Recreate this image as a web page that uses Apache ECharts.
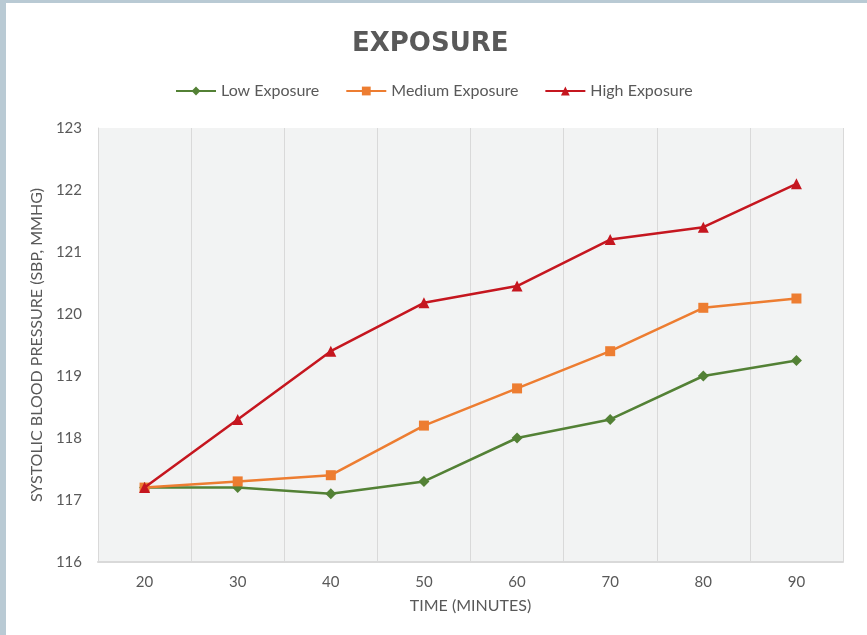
<!DOCTYPE html>
<html>
<head>
<meta charset="utf-8">
<script src="https://cdn.jsdelivr.net/npm/echarts@6/dist/echarts.min.js"></script>
<style>
html,body{margin:0;padding:0;width:867px;height:635px;background:#b9cad4;overflow:hidden;}
#chart{position:absolute;left:6px;top:3px;width:861px;height:632px;background:#ffffff;}
</style>
</head>
<body>
<div id="chart"></div>
<script>
var categories = ['20','30','40','50','60','70','80','90'];
var lowExposure = [117.2, 117.2, 117.1, 117.3, 118.0, 118.3, 119.0, 119.25];
var mediumExposure = [117.2, 117.3, 117.4, 118.2, 118.8, 119.4, 120.1, 120.25];
var highExposure = [117.2, 118.3, 119.4, 120.18, 120.45, 121.2, 121.4, 122.1];
var seriesNames = ['Low Exposure','Medium Exposure','High Exposure'];
var titleText = 'EXPOSURE';
var xAxisName = 'TIME (MINUTES)';
var yAxisName = 'SYSTOLIC BLOOD PRESSURE (SBP, MMHG)';

var chart = echarts.init(document.getElementById('chart'));
var font = 'Lato, "Open Sans", sans-serif';
chart.setOption({
  animation: false,
  backgroundColor: '#ffffff',
  title: {
    text: titleText,
    left: 346,
    top: 28,
    padding: 0,
    textStyle: {fontFamily: '"DejaVu Sans", sans-serif', fontSize: 26, fontWeight: 'bold', color: '#595959'}
  },
  legend: {
    top: 80,
    left: 169,
    padding: 0,
    itemWidth: 40,
    itemHeight: 11,
    itemGap: 26,
    textStyle: {fontFamily: font, fontSize: 16, color: '#595959'},
    data: seriesNames
  },
  grid: {
    left: 92, right: 24, top: 125, bottom: 73,
    show: true, backgroundColor: '#f2f3f3', borderWidth: 0
  },
  xAxis: {
    type: 'category',
    data: categories,
    boundaryGap: true,
    name: xAxisName,
    nameLocation: 'middle',
    nameGap: 36,
    nameTextStyle: {fontFamily: font, fontSize: 16, color: '#595959'},
    axisLine: {lineStyle: {color: '#d9d9d9', width: 2}},
    axisTick: {show: false},
    axisLabel: {fontFamily: font, fontSize: 15, color: '#595959', margin: 13},
    splitLine: {show: true, lineStyle: {color: '#d9d9d9', width: 1}}
  },
  yAxis: {
    type: 'value',
    min: 116, max: 123, interval: 1,
    name: yAxisName,
    nameLocation: 'middle',
    nameGap: 50,
    nameTextStyle: {fontFamily: font, fontSize: 16, color: '#595959'},
    axisLine: {show: true, lineStyle: {color: '#d9d9d9', width: 1}},
    axisTick: {show: false},
    splitLine: {show: false},
    axisLabel: {fontFamily: font, fontSize: 15, color: '#595959', margin: 16}
  },
  series: [
    {name: seriesNames[0], type: 'line', data: lowExposure, symbol: 'diamond', symbolSize: 11,
     lineStyle: {width: 2.5, color: '#538135'}, itemStyle: {color: '#538135'}, z: 3},
    {name: seriesNames[1], type: 'line', data: mediumExposure, symbol: 'rect', symbolSize: 10,
     lineStyle: {width: 2.5, color: '#ed7d31'}, itemStyle: {color: '#ed7d31'}, z: 4},
    {name: seriesNames[2], type: 'line', data: highExposure, symbol: 'triangle', symbolSize: 11,
     lineStyle: {width: 2.5, color: '#c5161f'}, itemStyle: {color: '#c5161f'}, z: 5}
  ]
});
</script>
</body>
</html>
